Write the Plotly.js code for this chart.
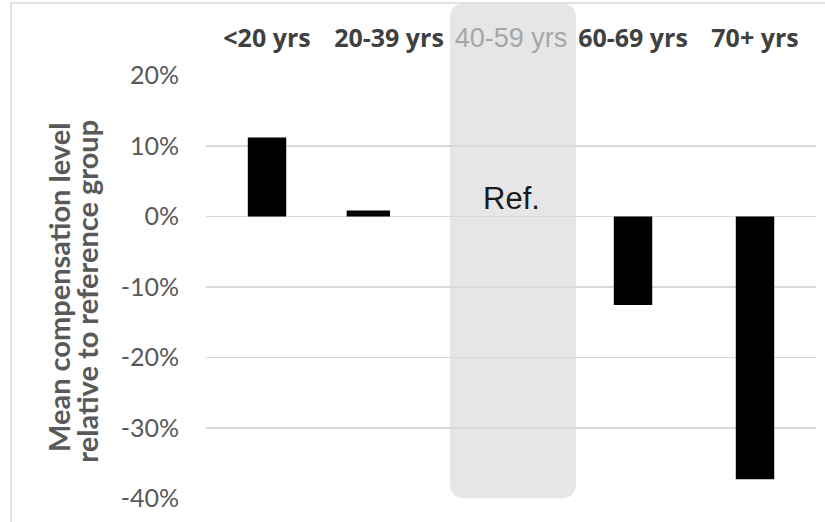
<!DOCTYPE html>
<html>
<head>
<meta charset="utf-8">
<script src="https://cdn.plot.ly/plotly-3.0.1.min.js"></script>
<style>
  html, body { margin: 0; padding: 0; background: #ffffff; }
  #chart { width: 825px; height: 522px; }
</style>
</head>
<body>
<div id="chart"></div>
<script>
// Age groups along the top; the 40-59 group is the reference (no bar)
const ageGroups = ['<20 yrs', '20-39 yrs', '40-59 yrs', '60-69 yrs', '70+ yrs'];
const referenceGroup = '40-59 yrs';
// Mean compensation relative to the reference group (fraction)
const relativeComp = [0.112, 0.0085, null, -0.1255, -0.3725];
// Y-axis ticks
const yTickVals = [-0.4, -0.3, -0.2, -0.1, 0, 0.1, 0.2];
const yTickText = ['-40%', '-30%', '-20%', '-10%', '0%', '10%', '20%'];
// Two-line y-axis title
const yTitleLines = ['Mean compensation level', 'relative to reference group'];

const refLabel = 'Ref.';

// Tick text for the top axis; the reference group is shown in light grey
const xTickText = ageGroups.map(g => g === referenceGroup
  ? '<span style="font-family:\'Liberation Sans\', Arial; font-weight:normal; font-size:27px; color:#a6a6a6">' + g + '</span>'
  : g);

// Bar widths / offsets (category units)
const barWidth = ageGroups.map(g => g === '20-39 yrs' ? 0.355 : 0.315);
const barOffset = ageGroups.map(g => g === '20-39 yrs' ? -0.347 : -0.1575);

const trace = {
  type: 'bar',
  x: ageGroups,
  y: relativeComp,
  width: barWidth,
  offset: barOffset,
  marker: { color: '#000000', line: { width: 0 } },
  hoverinfo: 'skip'
};

// Rounded grey band behind the reference column (paper coordinates)
const bx0 = 0.4, bx1 = 0.6066, by0 = 0.002, by1 = 1.1686;
const rx = 15 / 610, ry = 15 / 424;
const bandPath =
  'M ' + (bx0 + rx) + ',' + by0 +
  ' L ' + (bx1 - rx) + ',' + by0 +
  ' Q ' + bx1 + ',' + by0 + ' ' + bx1 + ',' + (by0 + ry) +
  ' L ' + bx1 + ',' + (by1 - ry) +
  ' Q ' + bx1 + ',' + by1 + ' ' + (bx1 - rx) + ',' + by1 +
  ' L ' + (bx0 + rx) + ',' + by1 +
  ' Q ' + bx0 + ',' + by1 + ' ' + bx0 + ',' + (by1 - ry) +
  ' L ' + bx0 + ',' + (by0 + ry) +
  ' Q ' + bx0 + ',' + by0 + ' ' + (bx0 + rx) + ',' + by0 + ' Z';

const titleFont = { family: 'Lato', size: 29, color: '#595959', weight: 700 };

const layout = {
  width: 825,
  height: 522,
  margin: { l: 206, r: 9, t: 75, b: 23 },
  paper_bgcolor: '#ffffff',
  plot_bgcolor: 'rgba(0,0,0,0)',
  showlegend: false,
  xaxis: {
    type: 'category',
    categoryorder: 'array',
    categoryarray: ageGroups,
    side: 'top',
    range: [-0.5, 4.5],
    tickvals: ageGroups,
    ticktext: xTickText,
    ticks: '',
    ticklabelstandoff: 22,
    tickfont: { family: 'Open Sans', size: 25, color: '#404040', weight: 700 },
    showgrid: false,
    zeroline: false,
    showline: false,
    fixedrange: true
  },
  yaxis: {
    range: [-0.4005, 0.2005],
    tickvals: yTickVals,
    ticktext: yTickText,
    ticks: '',
    ticklabelstandoff: 26,
    tickfont: { family: 'Lato', size: 25, color: '#595959' },
    showgrid: true,
    gridcolor: '#d9d9d9',
    gridwidth: 1.3,
    zeroline: false,
    showline: false,
    fixedrange: true
  },
  shapes: [
    {
      type: 'path', xref: 'paper', yref: 'paper', layer: 'below',
      path: bandPath,
      fillcolor: '#e6e6e6',
      line: { width: 0 }
    },
    // frame lines along the left and top edges
    { type: 'line', xref: 'paper', yref: 'paper', x0: -0.3197, x1: -0.3197, y0: 1.1698, y1: -0.06,
      line: { color: '#d9d9d9', width: 1.5 } },
    { type: 'line', xref: 'paper', yref: 'paper', x0: -0.3197, x1: 1.02, y0: 1.1698, y1: 1.1698,
      line: { color: '#d9d9d9', width: 1.5 } }
  ],
  annotations: [
    {
      xref: 'x', yref: 'y', x: referenceGroup, y: 0.025,
      text: refLabel, showarrow: false,
      font: { family: 'Liberation Sans', size: 31, color: '#1a1a1a' }
    },
    {
      xref: 'paper', yref: 'paper', x: (58 - 206) / 610, y: 0.4976,
      xanchor: 'center', yanchor: 'middle', textangle: -90,
      text: '<b>' + yTitleLines[0] + '</b>', showarrow: false, font: titleFont
    },
    {
      xref: 'paper', yref: 'paper', x: (87 - 206) / 610, y: 0.489,
      xanchor: 'center', yanchor: 'middle', textangle: -90,
      text: '<b>' + yTitleLines[1] + '</b>', showarrow: false, font: titleFont
    }
  ]
};

Plotly.newPlot('chart', [trace], layout, { staticPlot: true, displayModeBar: false });
</script>
</body>
</html>
